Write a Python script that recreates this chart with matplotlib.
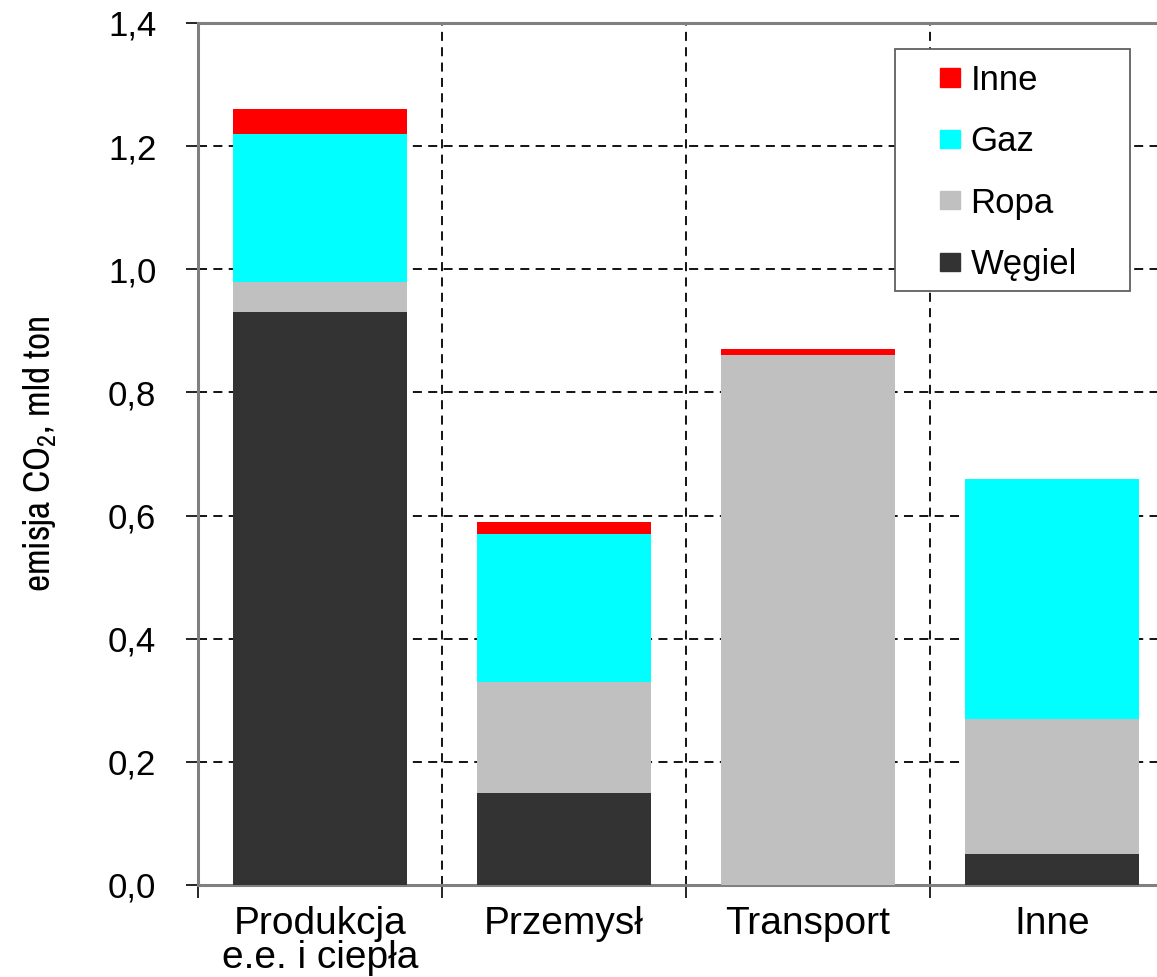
import matplotlib
matplotlib.use("Agg")
import matplotlib.pyplot as plt
from matplotlib.ticker import FuncFormatter, FixedLocator
from matplotlib.patches import Patch, Rectangle
from matplotlib.font_manager import FontProperties, fontManager

# --- data -------------------------------------------------------------
categories = ["Produkcja\ne.e. i ciepła", "Przemysł", "Transport", "Inne"]
wegiel = [0.93, 0.15, 0.00, 0.05]
ropa = [0.05, 0.18, 0.86, 0.22]
gaz = [0.24, 0.24, 0.00, 0.39]
inne = [0.04, 0.02, 0.01, 0.00]
series_names = ["Węgiel", "Ropa", "Gaz", "Inne"]
series_colors = ["#333333", "#c0c0c0", "#00ffff", "#ff0000"]
y_ticks = [0.0, 0.2, 0.4, 0.6, 0.8, 1.0, 1.2, 1.4]

# --- fonts ------------------------------------------------------------
names = {f.name for f in fontManager.ttflist}
main_font = "Liberation Sans" if "Liberation Sans" in names else "DejaVu Sans"

# a condensed sans face for the axis title, if one is installed
narrow = None
for f in sorted(fontManager.ttflist, key=lambda e: e.name):
    is_narrow = ("Narrow" in f.name or "Condensed" in f.name
                 or f.stretch in ("condensed", "semi-condensed"))
    if is_narrow and f.style == "normal" and f.weight in (400, "normal", "regular") \
            and "Mono" not in f.name and "Serif" not in f.name:
        narrow = f
        break

plt.rcParams["font.family"] = [main_font, "DejaVu Sans"]
plt.rcParams["mathtext.fontset"] = "custom"
if narrow is not None:
    label_prop = FontProperties(fname=narrow.fname, size=27)
    plt.rcParams["mathtext.rm"] = narrow.name
    plt.rcParams["mathtext.it"] = narrow.name
else:
    label_prop = FontProperties(family=main_font, size=23)
    plt.rcParams["mathtext.rm"] = main_font
    plt.rcParams["mathtext.it"] = main_font

W, H = 1157, 977
fig = plt.figure(figsize=(W / 100, H / 100), dpi=100)
# axes extends slightly past the right edge of the figure
ax = fig.add_axes([198 / W, 1 - 885 / H, 976 / W, (885 - 23) / H])

x = list(range(len(categories)))
width = 0.713
bottom = [0.0] * len(categories)
for vals, name, col in zip([wegiel, ropa, gaz, inne], series_names, series_colors):
    ax.bar(x, vals, width, bottom=bottom, color=col, label=name, zorder=3, linewidth=0)
    bottom = [b + v for b, v in zip(bottom, vals)]

ax.set_xlim(-0.5, 3.5)
ax.set_ylim(0, 1.4)

# y axis
ax.set_yticks(y_ticks)
ax.yaxis.set_major_formatter(FuncFormatter(lambda v, p: f"{v:.1f}".replace(".", ",")))
ax.tick_params(axis="y", direction="out", length=9, width=1.2, color="black",
               labelsize=25, pad=21)

# x axis: boundary ticks (major) and category labels (minor)
ax.xaxis.set_major_locator(FixedLocator([-0.5, 0.5, 1.5, 2.5, 3.5]))
ax.xaxis.set_minor_locator(FixedLocator(x))
ax.set_xticklabels([], minor=False)
ax.set_xticklabels(categories, minor=True, linespacing=0.93)
ax.tick_params(axis="x", which="major", direction="out", length=9, width=1.2, color="black")
ax.tick_params(axis="x", which="minor", length=0, labelsize=28, pad=15)

# grid
dash = (0, (5, 3.5))
for gx in [0.5, 1.5, 2.5]:
    ax.axvline(gx, color="black", linestyle=dash, linewidth=1.3, zorder=1)
for gy in y_ticks[1:-1]:
    ax.axhline(gy, color="black", linestyle=dash, linewidth=1.3, zorder=1)

for side in ["left", "top", "bottom"]:
    ax.spines[side].set_color("#808080")
    ax.spines[side].set_linewidth(2.2)
ax.spines["right"].set_visible(False)

ax.set_ylabel(r"emisja CO$_2$, mld ton", fontproperties=label_prop)
ax.yaxis.set_label_coords((58 - 198) / 976, 0.5)

# legend, reversed order, with its own frame box
handles = [Patch(color=c, label=n) for n, c in zip(series_names, series_colors)][::-1]
leg = fig.legend(handles=handles, loc="center left",
                 bbox_to_anchor=(940 / W, 1 - 172.5 / H), bbox_transform=fig.transFigure,
                 fontsize=25, frameon=False,
                 handlelength=0.58, handleheight=0.43, handletextpad=0.3,
                 labelspacing=0.82, borderpad=0, borderaxespad=0)
leg.set_zorder(6)
frame = Rectangle((895 / W, 1 - 291 / H), (1130 - 895) / W, (291 - 49) / H,
                  transform=fig.transFigure, facecolor="white",
                  edgecolor="#606060", linewidth=1.3, zorder=5)
fig.add_artist(frame)

fig.savefig("out.png", dpi=100)
